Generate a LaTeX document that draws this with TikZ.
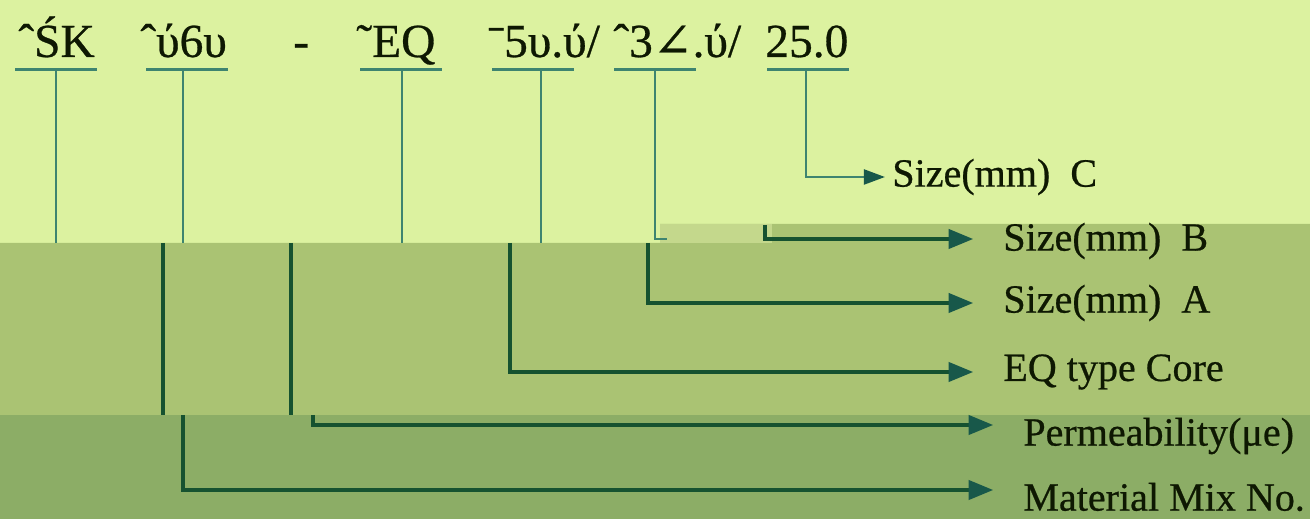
\documentclass[tikz,border=0pt]{standalone}
\usepackage{fontspec}
\setmainfont{Liberation Serif}[BoldFont=Liberation Serif,BoldFeatures={FakeBold=0.6}]
\newfontfamily\symserif{DejaVu Serif}[FakeBold=0.6]
\usepackage{xcolor}
\usetikzlibrary{arrows.meta,positioning}

\definecolor{bandtop}{RGB}{220,242,160}
\definecolor{bandmid}{RGB}{170,195,115}
\definecolor{bandlow}{RGB}{140,173,102}
\definecolor{bandglitch}{RGB}{196,216,140}
\definecolor{stemteal}{RGB}{62,132,112}
\definecolor{leaddark}{RGB}{22,82,48}
\definecolor{tipteal}{RGB}{24,88,74}
\definecolor{inkdark}{RGB}{14,24,2}

\begin{document}
\begin{tikzpicture}[x=0.02cm,y=-0.02cm,
      part_txt/.style={
         anchor=base west,
         inner sep=0pt,
         text=inkdark,
         font=\fontsize{27}{29}\selectfont\bfseries},
      label_txt/.style={
         anchor=west,
         inner sep=0pt,
         text=inkdark,
         font=\fontsize{22.8}{25}\selectfont\bfseries},
      stem_line/.style={
         draw=stemteal,
         line width=1.4pt},
      lead_line/.style={
         draw=leaddark,
         line width=1.9pt},
      arrow_small/.style={
         -{Triangle[length=12pt,width=8.5pt,color=tipteal]},
         draw=stemteal,
         line width=1.4pt},
      arrow_lead/.style={
         -{Triangle[length=14pt,width=11pt,color=tipteal]},
         draw=leaddark,
         line width=1.9pt}
]
      \useasboundingbox (0,0) rectangle (1310,519);

      %bands
      \fill[bandtop] (0,0) rectangle (1310,243);
      \fill[bandmid] (0,243) -- (660,243) -- (660,224) -- (1310,224)
                     -- (1310,415) -- (0,415) -- cycle;
      \fill[bandlow] (0,415) rectangle (1310,519);
      \fill[bandglitch] (660,224) rectangle (772,243);

      %part number
      \node[part_txt] (p1) at (18,57) {ˆŚK};
      \node[part_txt] (p2) at (140,57) {ˆύ6υ};
      \node[part_txt] (pd) at (293,57) {-};
      \node[part_txt] (p3) at (356,57) {˜EQ};
      \node[part_txt] (p4) at (488,57) {ˉ5υ.ύ/};
      \node[part_txt] (p5) at (613,57) {ˆ3{\symserif\mdseries ∠}.ύ/};
      \node[part_txt] (p6) at (765,57) {25.0};

      %labels
      \node[label_txt] (lc) at (892,177) {Size(mm)\ \ C};
      \node[label_txt] (lb) at (1003,241) {Size(mm)\ \ B};
      \node[label_txt] (la) at (1003,303) {Size(mm)\ \ A};
      \node[label_txt] (leq) at (1003,372) {EQ type Core};
      \node[label_txt] (lperm) at (1023,436) {Permeability(μe)};
      \node[label_txt] (lmat) at (1023,497) {Material Mix No.};

      %stem ends
      \coordinate (s1) at (56,70);   \coordinate (e1) at (56,243);
      \coordinate (s2) at (183,70);  \coordinate (e2) at (183,243);
      \coordinate (s3) at (402,70);  \coordinate (e3) at (402,243);
      \coordinate (s4) at (541,70);  \coordinate (e4) at (541,243);
      \coordinate (s5) at (655,70);  \coordinate (e5) at (655,239);
      \coordinate (s6) at (806,70);
      \coordinate (g1) at (163,243); \coordinate (h1) at (163,415);
      \coordinate (g2) at (291,243); \coordinate (h2) at (291,415);
      \coordinate (g3) at (510,243);
      \coordinate (g4) at (648,243);
      \coordinate (g5) at (765,225);
      \coordinate (k1) at (183,415); \coordinate (m1) at (183,490);
      \coordinate (k2) at (313,415); \coordinate (m2) at (313,425);

      %underlines
      \foreach \a/\b in {15/97, 146/228, 360/442, 492/574, 614/696, 767/849}
        \draw[stem_line, line width=1.7pt] (\a,70) -- (\b,70);

      \foreach \i/\j in {s1/e1, s2/e2, s3/e3, s4/e4}
        \draw[stem_line] (\i) -- (\j);
      \draw[lead_line] (g1) -- (h1);
      \draw[lead_line] (g2) -- (h2);
      \draw[stem_line] (s5) -- (e5) -- ++(12,0);

      \draw[arrow_small, shorten >=4pt] (s6) |- (lc);
      \draw[arrow_lead, shorten >=17pt] (g5) -- (g5 |- 0,239) -- (lb.west |- 0,239);
      \foreach \i/\j in {g4/la, g3/leq}
        \draw[arrow_lead, shorten >=17pt] (\i) |- (\j);
      \draw[arrow_lead, shorten >=17pt] (k2) -- (m2) -- (m2 -| lperm.west);
      \draw[arrow_lead, shorten >=17pt] (k1) -- (m1) -- (m1 -| lmat.west);
\end{tikzpicture}
\end{document}
